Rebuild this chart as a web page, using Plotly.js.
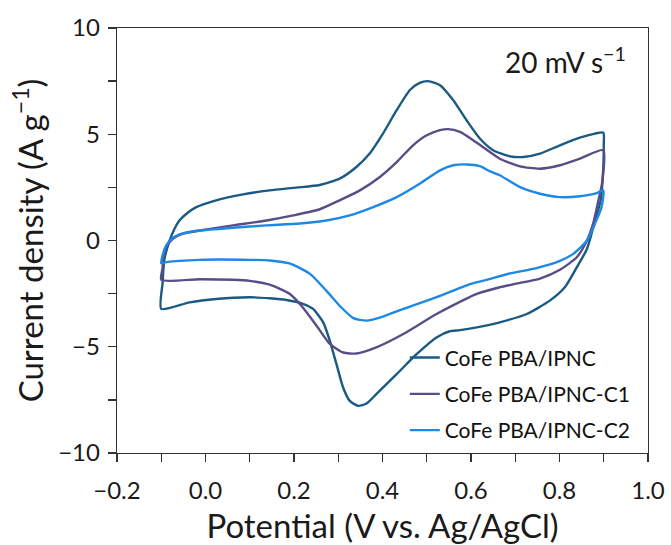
<!DOCTYPE html>
<html>
<head>
<meta charset="utf-8">
<script src="https://cdn.plot.ly/plotly-3.0.1.min.js"></script>
<style>html,body{margin:0;padding:0;background:#fff;}</style>
</head>
<body>
<div id="chart" style="width:671px;height:545px;"></div>
<script>
// Series names
const seriesNames = ["CoFe PBA/IPNC", "CoFe PBA/IPNC-C1", "CoFe PBA/IPNC-C2"];

// CoFe PBA/IPNC (closed CV loop: anodic sweep then cathodic sweep)
const ipncX = [-0.100,-0.097,-0.095,-0.092,-0.081,-0.070,-0.059,-0.043,-0.021,0.024,0.085,0.145,0.205,0.258,0.303,0.341,0.371,0.401,0.432,0.462,0.484,0.503,0.530,0.560,0.590,0.620,0.650,0.688,0.718,0.756,0.801,0.846,0.880,0.899,
  0.900,0.899,0.893,0.878,0.862,0.839,0.812,0.778,0.726,0.665,0.613,0.575,0.552,0.522,0.477,0.432,0.386,0.364,0.345,0.326,0.311,0.296,0.281,0.266,0.243,0.220,0.183,0.145,0.100,0.024,-0.036,-0.100];
const ipncY = [-3.22,-2.00,-1.30,-0.79,0.00,0.55,0.94,1.26,1.57,1.89,2.17,2.36,2.49,2.61,2.91,3.46,4.09,5.03,6.13,7.08,7.42,7.50,7.31,6.60,5.66,4.80,4.25,3.96,3.93,4.09,4.48,4.84,5.03,5.08,
  4.50,3.46,1.89,0.75,-0.40,-1.26,-2.20,-2.83,-3.46,-3.85,-4.09,-4.22,-4.27,-4.56,-5.35,-6.29,-7.23,-7.67,-7.78,-7.55,-6.92,-5.82,-4.72,-3.85,-3.22,-2.98,-2.80,-2.72,-2.67,-2.75,-2.91,-3.22];

// CoFe PBA/IPNC-C1
const c1X = [-0.100,-0.097,-0.096,-0.089,-0.074,-0.051,-0.013,0.062,0.138,0.198,0.258,0.303,0.349,0.394,0.432,0.469,0.500,0.530,0.548,0.575,0.605,0.630,0.665,0.711,0.756,0.801,0.846,0.899,
  0.896,0.888,0.876,0.862,0.839,0.801,0.756,0.700,0.665,0.613,0.598,0.522,0.447,0.386,0.341,0.311,0.281,0.251,0.220,0.190,0.145,0.100,0.062,-0.013,-0.100];
const c1Y = [-1.85,-1.30,-0.94,-0.32,0.08,0.32,0.47,0.71,0.94,1.18,1.47,1.89,2.36,2.99,3.69,4.48,4.95,5.19,5.24,5.11,4.72,4.35,3.85,3.49,3.38,3.54,3.85,4.25,
  2.67,1.89,0.79,0.00,-0.79,-1.38,-1.79,-2.04,-2.20,-2.51,-2.65,-3.46,-4.40,-5.03,-5.32,-5.27,-4.87,-4.01,-3.15,-2.51,-2.08,-1.90,-1.85,-1.82,-1.85];

// CoFe PBA/IPNC-C2
const c2X = [-0.100,-0.096,-0.089,-0.074,-0.051,-0.013,0.062,0.138,0.213,0.273,0.326,0.379,0.432,0.484,0.530,0.560,0.590,0.620,0.643,0.665,0.711,0.756,0.801,0.846,0.884,0.899,
  0.895,0.880,0.862,0.831,0.801,0.748,0.688,0.635,0.598,0.522,0.447,0.401,0.364,0.334,0.303,0.273,0.236,0.190,0.145,0.100,-0.013,-0.089,-0.100];
const c2Y = [-1.07,-0.63,-0.24,0.13,0.34,0.47,0.60,0.71,0.80,0.94,1.18,1.57,2.04,2.67,3.30,3.54,3.58,3.50,3.25,3.07,2.51,2.20,2.04,2.08,2.23,2.36,
  1.57,0.79,0.00,-0.63,-0.96,-1.30,-1.55,-1.85,-2.05,-2.67,-3.22,-3.58,-3.77,-3.65,-3.07,-2.36,-1.57,-1.08,-0.94,-0.91,-0.91,-1.02,-1.07];

const xTickVals = [-0.2, 0.0, 0.2, 0.4, 0.6, 0.8, 1.0];
const xTickText = ["\u22120.2", "0.0", "0.2", "0.4", "0.6", "0.8", "1.0"];
const yTickVals = [-10, -5, 0, 5, 10];
const yTickText = ["\u221210", "\u22125", "0", "5", "10"];

const colors = ["#1b5a82", "#5a4c86", "#1e88e5"];
const FONT = "Lato, 'Open Sans', sans-serif";

const xs = [ipncX, c1X, c2X];
const ys = [ipncY, c1Y, c2Y];
const traces = seriesNames.map((n, i) => ({
  type: "scatter", mode: "lines", name: n,
  x: xs[i], y: ys[i],
  line: {color: colors[i], width: 2.4, shape: "spline", smoothing: 0.6},
  legendgroup: "g" + i
}));

const axisCommon = {
  showline: true, linecolor: "#333", linewidth: 1.3, mirror: true,
  ticks: "outside", ticklen: 8, tickwidth: 1.3, tickcolor: "#333",
  showgrid: false, zeroline: false,
  tickfont: {family: FONT, size: 24, color: "#1a1a1a"}
};

const layout = {
  width: 671, height: 545,
  margin: {l: 117, r: 23, t: 28, b: 92},
  paper_bgcolor: "#fff", plot_bgcolor: "#fff",
  showlegend: true,
  legend: {
    x: 0.542, y: 0.272, xanchor: "left", yanchor: "top",
    bgcolor: "rgba(0,0,0,0)", font: {family: FONT, size: 21, color: "#111"},
    tracegroupgap: 6, traceorder: "grouped", itemwidth: 30
  },
  xaxis: Object.assign({}, axisCommon, {
    range: [-0.2, 1.0], tickmode: "array", tickvals: xTickVals, ticktext: xTickText,
    ticklabelstandoff: 8,
    minor: {dtick: 0.1, tick0: -0.2, ticks: "outside", ticklen: 8, tickwidth: 1.3, tickcolor: "#333"},
    title: {text: "Potential (V vs. Ag/AgCl)", font: {family: FONT, size: 33, color: "#1a1a1a"}, standoff: 12}
  }),
  yaxis: Object.assign({}, axisCommon, {
    range: [-10, 10], tickmode: "array", tickvals: yTickVals, ticktext: yTickText,
    ticklabelstandoff: 3,
    minor: {dtick: 2.5, tick0: -10, ticks: "outside", ticklen: 8, tickwidth: 1.3, tickcolor: "#333"},
    title: {text: "Current density (A g<sup>\u22121</sup>)", font: {family: FONT, size: 33, color: "#1a1a1a"}, standoff: 4}
  }),
  annotations: [{
    xref: "paper", yref: "paper", x: 0.962, y: 0.972, xanchor: "right", yanchor: "top",
    showarrow: false, text: "20 mV s<sup>\u22121</sup>",
    font: {family: FONT, size: 28, color: "#1a1a1a"}
  }]
};

Plotly.newPlot("chart", traces, layout, {displayModeBar: false, staticPlot: true});
</script>
</body>
</html>
